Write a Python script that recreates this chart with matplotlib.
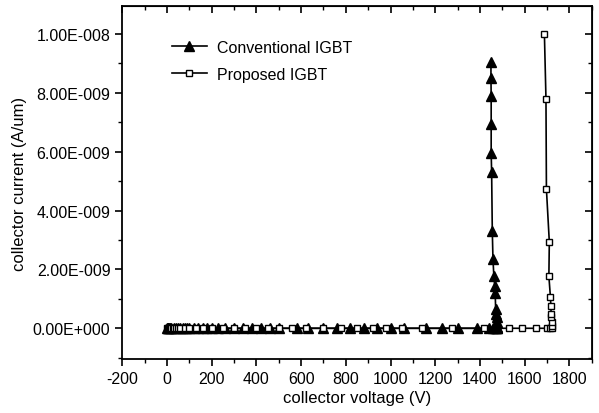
import matplotlib
matplotlib.use("Agg")
import matplotlib.pyplot as plt
from matplotlib.ticker import MultipleLocator, FuncFormatter

plt.rcParams['font.family'] = ['Liberation Sans', 'DejaVu Sans']
plt.rcParams['axes.unicode_minus'] = False

# Conventional IGBT (filled triangles): flat part, then breakdown part
conv_flat_v = [0, 3, 6, 10, 15, 20, 30, 40, 50, 60, 70, 80, 90, 100, 120, 140, 160,
               180, 200, 230, 260, 300, 340, 380, 420, 460, 500, 580, 630, 700, 760,
               820, 880, 940, 1000, 1060, 1160, 1230, 1300, 1385, 1440, 1458, 1466,
               1472, 1476, 1478]
conv_bd_v = [1477, 1476, 1474, 1472, 1470, 1468, 1466, 1462, 1458, 1455, 1452, 1450,
             1450, 1450, 1449, 1449]
conv_bd_i = [0.05e-9, 0.2e-9, 0.37e-9, 0.48e-9, 0.65e-9, 1.19e-9, 1.43e-9, 1.77e-9,
             2.35e-9, 3.30e-9, 5.31e-9, 5.95e-9, 6.94e-9, 7.89e-9, 8.5e-9, 9.05e-9]

# Proposed IGBT (open squares): flat part, then breakdown part
prop_flat_v = [0, 3, 6, 10, 15, 20, 25, 30, 40, 50, 60, 80, 100, 130, 160, 200, 250,
               300, 350, 400, 450, 500, 560, 620, 700, 780, 850, 920, 980, 1050, 1140,
               1275, 1420, 1530, 1590, 1650, 1700, 1715, 1720]
prop_bd_v = [1720, 1720, 1719, 1718, 1717, 1715, 1708, 1710, 1697, 1695, 1688]
prop_bd_i = [0.07e-9, 0.2e-9, 0.37e-9, 0.48e-9, 0.75e-9, 1.05e-9, 1.77e-9, 2.93e-9,
             4.73e-9, 7.8e-9, 10.0e-9]

conv_v = conv_flat_v + conv_bd_v
conv_i = [0] * len(conv_flat_v) + conv_bd_i
prop_v = prop_flat_v + prop_bd_v
prop_i = [0] * len(prop_flat_v) + prop_bd_i

fig = plt.figure(figsize=(5.99, 4.14), dpi=100)
ax = fig.add_axes([0.204, 0.130, 0.784, 0.853])

ax.plot(conv_v, conv_i, color='black', lw=1.2, marker='^', ms=7.5,
        mfc='black', mec='black', label='Conventional IGBT')
ax.plot(prop_v, prop_i, color='black', lw=1.2, marker='s', ms=5,
        mfc='white', mec='black', label='Proposed IGBT')

ax.set_xlim(-200, 1900)
ax.set_ylim(-1.05e-9, 1.095e-8)

ax.xaxis.set_major_locator(MultipleLocator(200))
ax.xaxis.set_minor_locator(MultipleLocator(100))
ax.yaxis.set_major_locator(MultipleLocator(2e-9))
ax.yaxis.set_minor_locator(MultipleLocator(1e-9))


def sci_fmt(v, pos):
    if abs(v) < 1e-15:
        return "0.00E+000"
    s = f"{v:.2E}"
    mant, ex = s.split("E")
    sign = ex[0]
    return f"{mant}E{sign}{int(ex[1:]):03d}"


ax.yaxis.set_major_formatter(FuncFormatter(sci_fmt))
ax.tick_params(axis='both', which='major', direction='out', length=5, width=1.2,
               labelsize=11.5)
ax.tick_params(axis='both', which='minor', direction='out', length=3, width=1.0)
for s in ax.spines.values():
    s.set_linewidth(1.3)

top = ax.secondary_xaxis('top')
top.xaxis.set_major_locator(MultipleLocator(200))
top.xaxis.set_minor_locator(MultipleLocator(100))
top.tick_params(which='major', direction='in', length=5, width=1.2, labeltop=False)
top.tick_params(which='minor', direction='in', length=3, width=1.0)
right = ax.secondary_yaxis('right')
right.yaxis.set_major_locator(MultipleLocator(2e-9))
right.yaxis.set_minor_locator(MultipleLocator(1e-9))
right.tick_params(which='major', direction='in', length=5, width=1.2, labelright=False)
right.tick_params(which='minor', direction='in', length=3, width=1.0)

ax.set_xlabel("collector voltage (V)", fontsize=12, labelpad=3)
ax.set_ylabel("collector current (A/um)", fontsize=12, labelpad=4)

ax.legend(loc='upper left', bbox_to_anchor=(0.075, 0.945), frameon=False,
          fontsize=11.5, handlelength=2.2, labelspacing=0.75, handletextpad=0.6)

fig.savefig("out.png", dpi=100)
